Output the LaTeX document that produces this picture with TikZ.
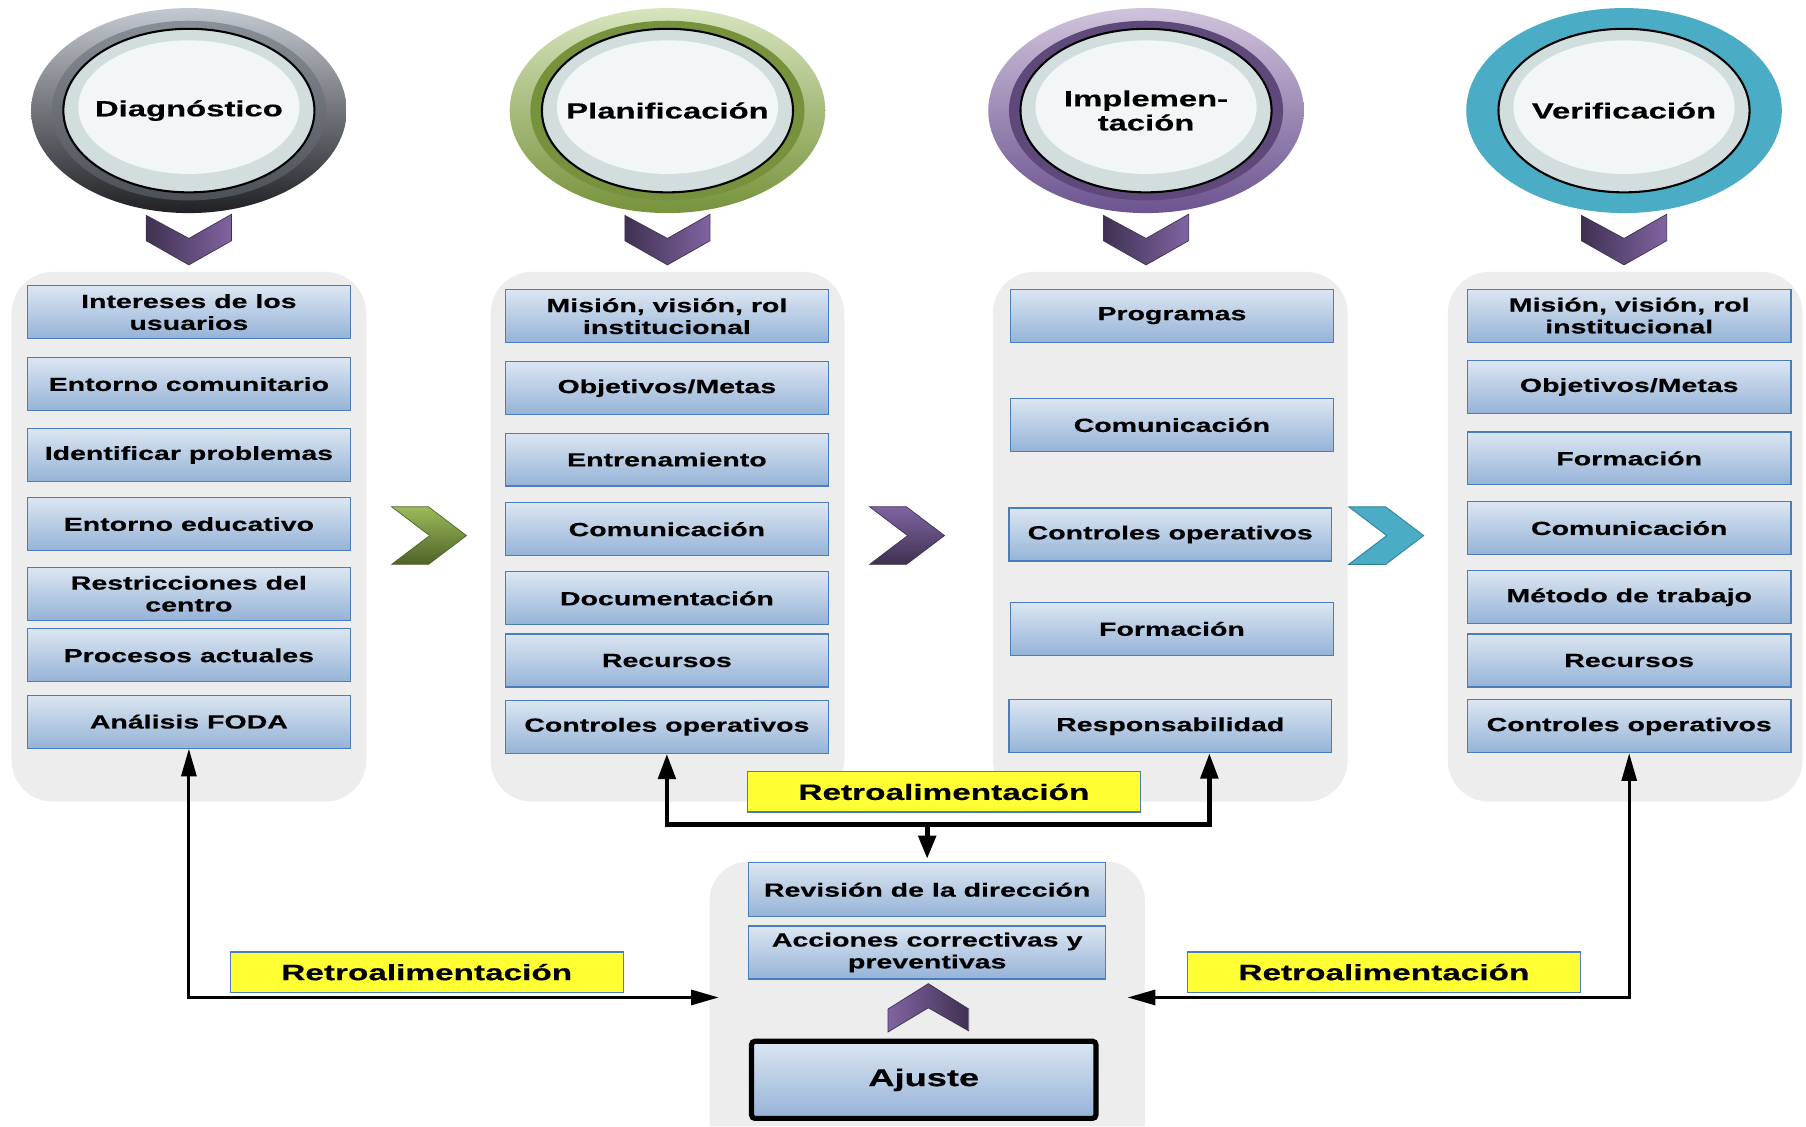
\documentclass[tikz,border=0pt]{standalone}
\usepackage{fontspec}
\setmainfont{Liberation Sans}[FakeStretch=1.5, BoldFeatures={FakeBold=0.35}]
\usetikzlibrary{arrows.meta,shapes.geometric,calc}

\definecolor{panelgray}{HTML}{EDEDED}
\definecolor{boxtop}{HTML}{DCE6F2}
\definecolor{boxbot}{HTML}{95B3D7}
\definecolor{boxborder}{HTML}{4A7EBB}
\definecolor{retroyellow}{HTML}{FFFF33}
\definecolor{chevdark}{HTML}{3F3151}
\definecolor{chevlight}{HTML}{8064A2}
\definecolor{greenlight}{HTML}{9BBB59}
\definecolor{greendark}{HTML}{4F6228}
\definecolor{teal}{HTML}{4BACC6}
\definecolor{tealdark}{HTML}{31849B}
\definecolor{ellin}{HTML}{F3F6F6}
\definecolor{ellout}{HTML}{D2DEDE}
\definecolor{greyA}{HTML}{C3C9D0}
\definecolor{greyB}{HTML}{1F2124}
\definecolor{greyR}{HTML}{6B737C}
\definecolor{grnA}{HTML}{D7E4BD}
\definecolor{grnB}{HTML}{77933C}
\definecolor{grnR}{HTML}{76923C}
\definecolor{purA}{HTML}{CFC3DC}
\definecolor{purB}{HTML}{6C5490}
\definecolor{purR}{HTML}{5F497A}

\newcommand\myitemfont{\fontsize{16.5}{19}\selectfont\bfseries}
\newcommand\myellfont{\fontsize{19}{21}\selectfont\bfseries}
\newcommand\myretrofont{\fontsize{19.3}{21}\selectfont\bfseries}
\newcommand\myajustefont{\fontsize{21}{23}\selectfont\bfseries}

\newcommand\downchev[1]{%
  \path[left color=chevdark, right color=chevlight, draw=chevdark, line width=0.6pt]
    (#1-37,187) -- (#1,207) -- (#1+37,186) -- (#1+37,209) -- (#1,230) -- (#1-37,209) -- cycle;}

\newcommand\innerglow[1]{%
  \fill[ellin] (#1,93) ellipse [x radius=96pt, y radius=58pt];}

\begin{document}
\begin{tikzpicture}[x=1pt,y=-1pt,
  item/.style={draw=boxborder, line width=1pt, top color=boxtop, bottom color=boxbot,
    align=center, inner sep=0pt, font=\myitemfont, minimum height=46pt, minimum width=280pt},
  retro/.style={draw=boxborder, line width=1pt, fill=retroyellow, minimum width=341pt,
    minimum height=35pt, inner sep=0pt, font=\myretrofont},
  phasebg/.style={ellipse, draw=black, line width=1.8pt, fill=ellout,
    minimum width=218pt, minimum height=142pt, inner sep=0pt},
  phase/.style={ellipse, inner sep=0pt, align=center, font=\myellfont},
  panel/.style={fill=panelgray, rounded corners=36pt},
  conn/.style={line width=2.6pt, {Triangle[length=24pt,width=13pt]}-{Triangle[length=24pt,width=13pt]}},
  topconn/.style={line width=4pt, {Triangle[length=22pt,width=15pt]}-{Triangle[length=22pt,width=15pt]}},
  downconn/.style={line width=4pt, -{Triangle[length=20pt,width=15pt]}}
]
\useasboundingbox (0,0) rectangle (1568,978);
\fill[white] (0,0) rectangle (1568,978);

% ---------- panels ----------
\fill[panel] (10,236) rectangle (318,696);
\fill[panel] (426,236) rectangle (733,696);
\fill[panel] (862,236) rectangle (1170,696);
\fill[panel] (1257,236) rectangle (1565,696);
\fill[panelgray] (616,978) [rounded corners=34pt] -- (616,748) -- (994,748) [sharp corners] -- (994,978) -- cycle;

% ---------- phase ellipses ----------
% Diagnostico
\shade[top color=greyA, bottom color=greyB] (164,96) ellipse [x radius=137pt, y radius=89pt];
\shade[top color=greyR!80!white, bottom color=greyR!70!black] (164,96) ellipse [x radius=119pt, y radius=78pt];
\node[phasebg] (diagbg) at (164,96) {};
\innerglow{164}
\node[phase] (diag) at (164,96) {Diagnóstico};
% Planificacion
\shade[top color=grnA, bottom color=grnB] (579.5,96) ellipse [x radius=137pt, y radius=89pt];
\fill[grnR] (579.5,96) ellipse [x radius=119pt, y radius=78pt];
\node[phasebg] (planbg) at (579.5,96) {};
\innerglow{579.5}
\node[phase] (plan) at (579.5,96) {Planificación};
% Implementacion
\shade[top color=purA, bottom color=purB] (995,96) ellipse [x radius=137pt, y radius=89pt];
\fill[purR] (995,96) ellipse [x radius=119pt, y radius=78pt];
\node[phasebg] (implbg) at (995,96) {};
\innerglow{995}
\node[phase] (impl) at (995,96) {Implemen-\\tación};
% Verificacion
\fill[teal] (1410,96) ellipse [x radius=137pt, y radius=89pt];
\node[phasebg] (veribg) at (1410,96) {};
\innerglow{1410}
\node[phase] (veri) at (1410,96) {Verificación};

% ---------- down chevrons ----------
\downchev{164}
\downchev{579.5}
\downchev{995}
\downchev{1410}

% ---------- right chevrons ----------
\path[top color=greenlight, bottom color=greendark, draw=greendark, line width=0.6pt]
  (340,440) -- (372,440) -- (405,465) -- (372,490) -- (340,490) -- (373,465) -- cycle;
\path[top color=chevlight, bottom color=chevdark, draw=chevdark, line width=0.6pt]
  (755,440) -- (787,440) -- (820,465) -- (787,490) -- (755,490) -- (788,465) -- cycle;
\path[fill=teal, draw=tealdark, line width=0.8pt]
  (1171,440) -- (1203,440) -- (1236,465) -- (1203,490) -- (1171,490) -- (1204,465) -- cycle;

% ---------- panel 1 ----------
\node[item] (p1a) at (164,271) {Intereses de los\\usuarios};
\node[item] (p1b) at (164,333.5) {Entorno comunitario};
\node[item] (p1c) at (164,395) {Identificar problemas};
\node[item] (p1d) at (164,455) {Entorno educativo};
\node[item] (p1e) at (164,515.5) {Restricciones del\\centro};
\node[item] (p1f) at (164,569) {Procesos actuales};
\node[item] (p1g) at (164,626.5) {Análisis FODA};

% ---------- panel 2 ----------
\node[item] (p2a) at (579,274.5) {Misión, visión, rol\\institucional};
\node[item] (p2b) at (579,337) {Objetivos/Metas};
\node[item] (p2c) at (579,399) {Entrenamiento};
\node[item] (p2d) at (579,459.5) {Comunicación};
\node[item] (p2e) at (579,519.5) {Documentación};
\node[item] (p2f) at (579,573.5) {Recursos};
\node[item] (p2g) at (579,631) {Controles operativos};

% ---------- panel 3 ----------
\node[item, minimum width=281pt] (p3a) at (1017.5,274) {Programas};
\node[item, minimum width=281pt] (p3b) at (1017.5,369) {Comunicación};
\node[item] (p3c) at (1016,464) {Controles operativos};
\node[item, minimum width=281pt] (p3d) at (1017.5,546) {Formación};
\node[item] (p3e) at (1016,630.5) {Responsabilidad};

% ---------- panel 4 ----------
\node[item, minimum width=281pt] (p4a) at (1414.5,274) {Misión, visión, rol\\institucional};
\node[item, minimum width=281pt] (p4b) at (1414.5,336) {Objetivos/Metas};
\node[item, minimum width=281pt] (p4c) at (1414.5,398) {Formación};
\node[item, minimum width=281pt] (p4d) at (1414.5,458.5) {Comunicación};
\node[item, minimum width=281pt] (p4e) at (1414.5,518.5) {Método de trabajo};
\node[item, minimum width=281pt] (p4f) at (1414.5,573.5) {Recursos};
\node[item, minimum width=281pt] (p4g) at (1414.5,630.5) {Controles operativos};

% ---------- bottom panel ----------
\node[item, minimum width=310pt, minimum height=47pt] (rev) at (805,772.5) {Revisión de la dirección};
\node[item, minimum width=310pt] (acc) at (805,827) {Acciones correctivas y\\preventivas};
\path[left color=chevlight, right color=chevdark, draw=chevdark, line width=0.6pt]
  (771,876) -- (806,854) -- (841,876) -- (841,895) -- (806,875) -- (771,896) -- cycle;
\node[item, draw=black, line width=4.5pt, rounded corners=3pt, minimum width=299pt,
  minimum height=67pt, font=\myajustefont] (ajuste) at (802,937.5) {Ajuste};

% ---------- feedback labels ----------
\node[retro] (rtop) at (819.5,687.5) {Retroalimentación};
\node[retro] (rleft) at (370.5,844) {Retroalimentación};
\node[retro] (rright) at (1201.5,844) {Retroalimentación};

% ---------- connectors ----------
\coordinate (lin) at (624,866);
\coordinate (rin) at (979,866);
\coordinate (jr) at (1050,716);
\draw[conn] (lin) -| (p1g.south);
\draw[conn] (rin) -| (p4g.south);
\draw[topconn] (p2g.south) |- (jr) -- ([xshift=34pt]p3e.south);
\draw[downconn] (rev.north |- jr) -- ([yshift=3pt]rev.north);
\end{tikzpicture}
\end{document}
